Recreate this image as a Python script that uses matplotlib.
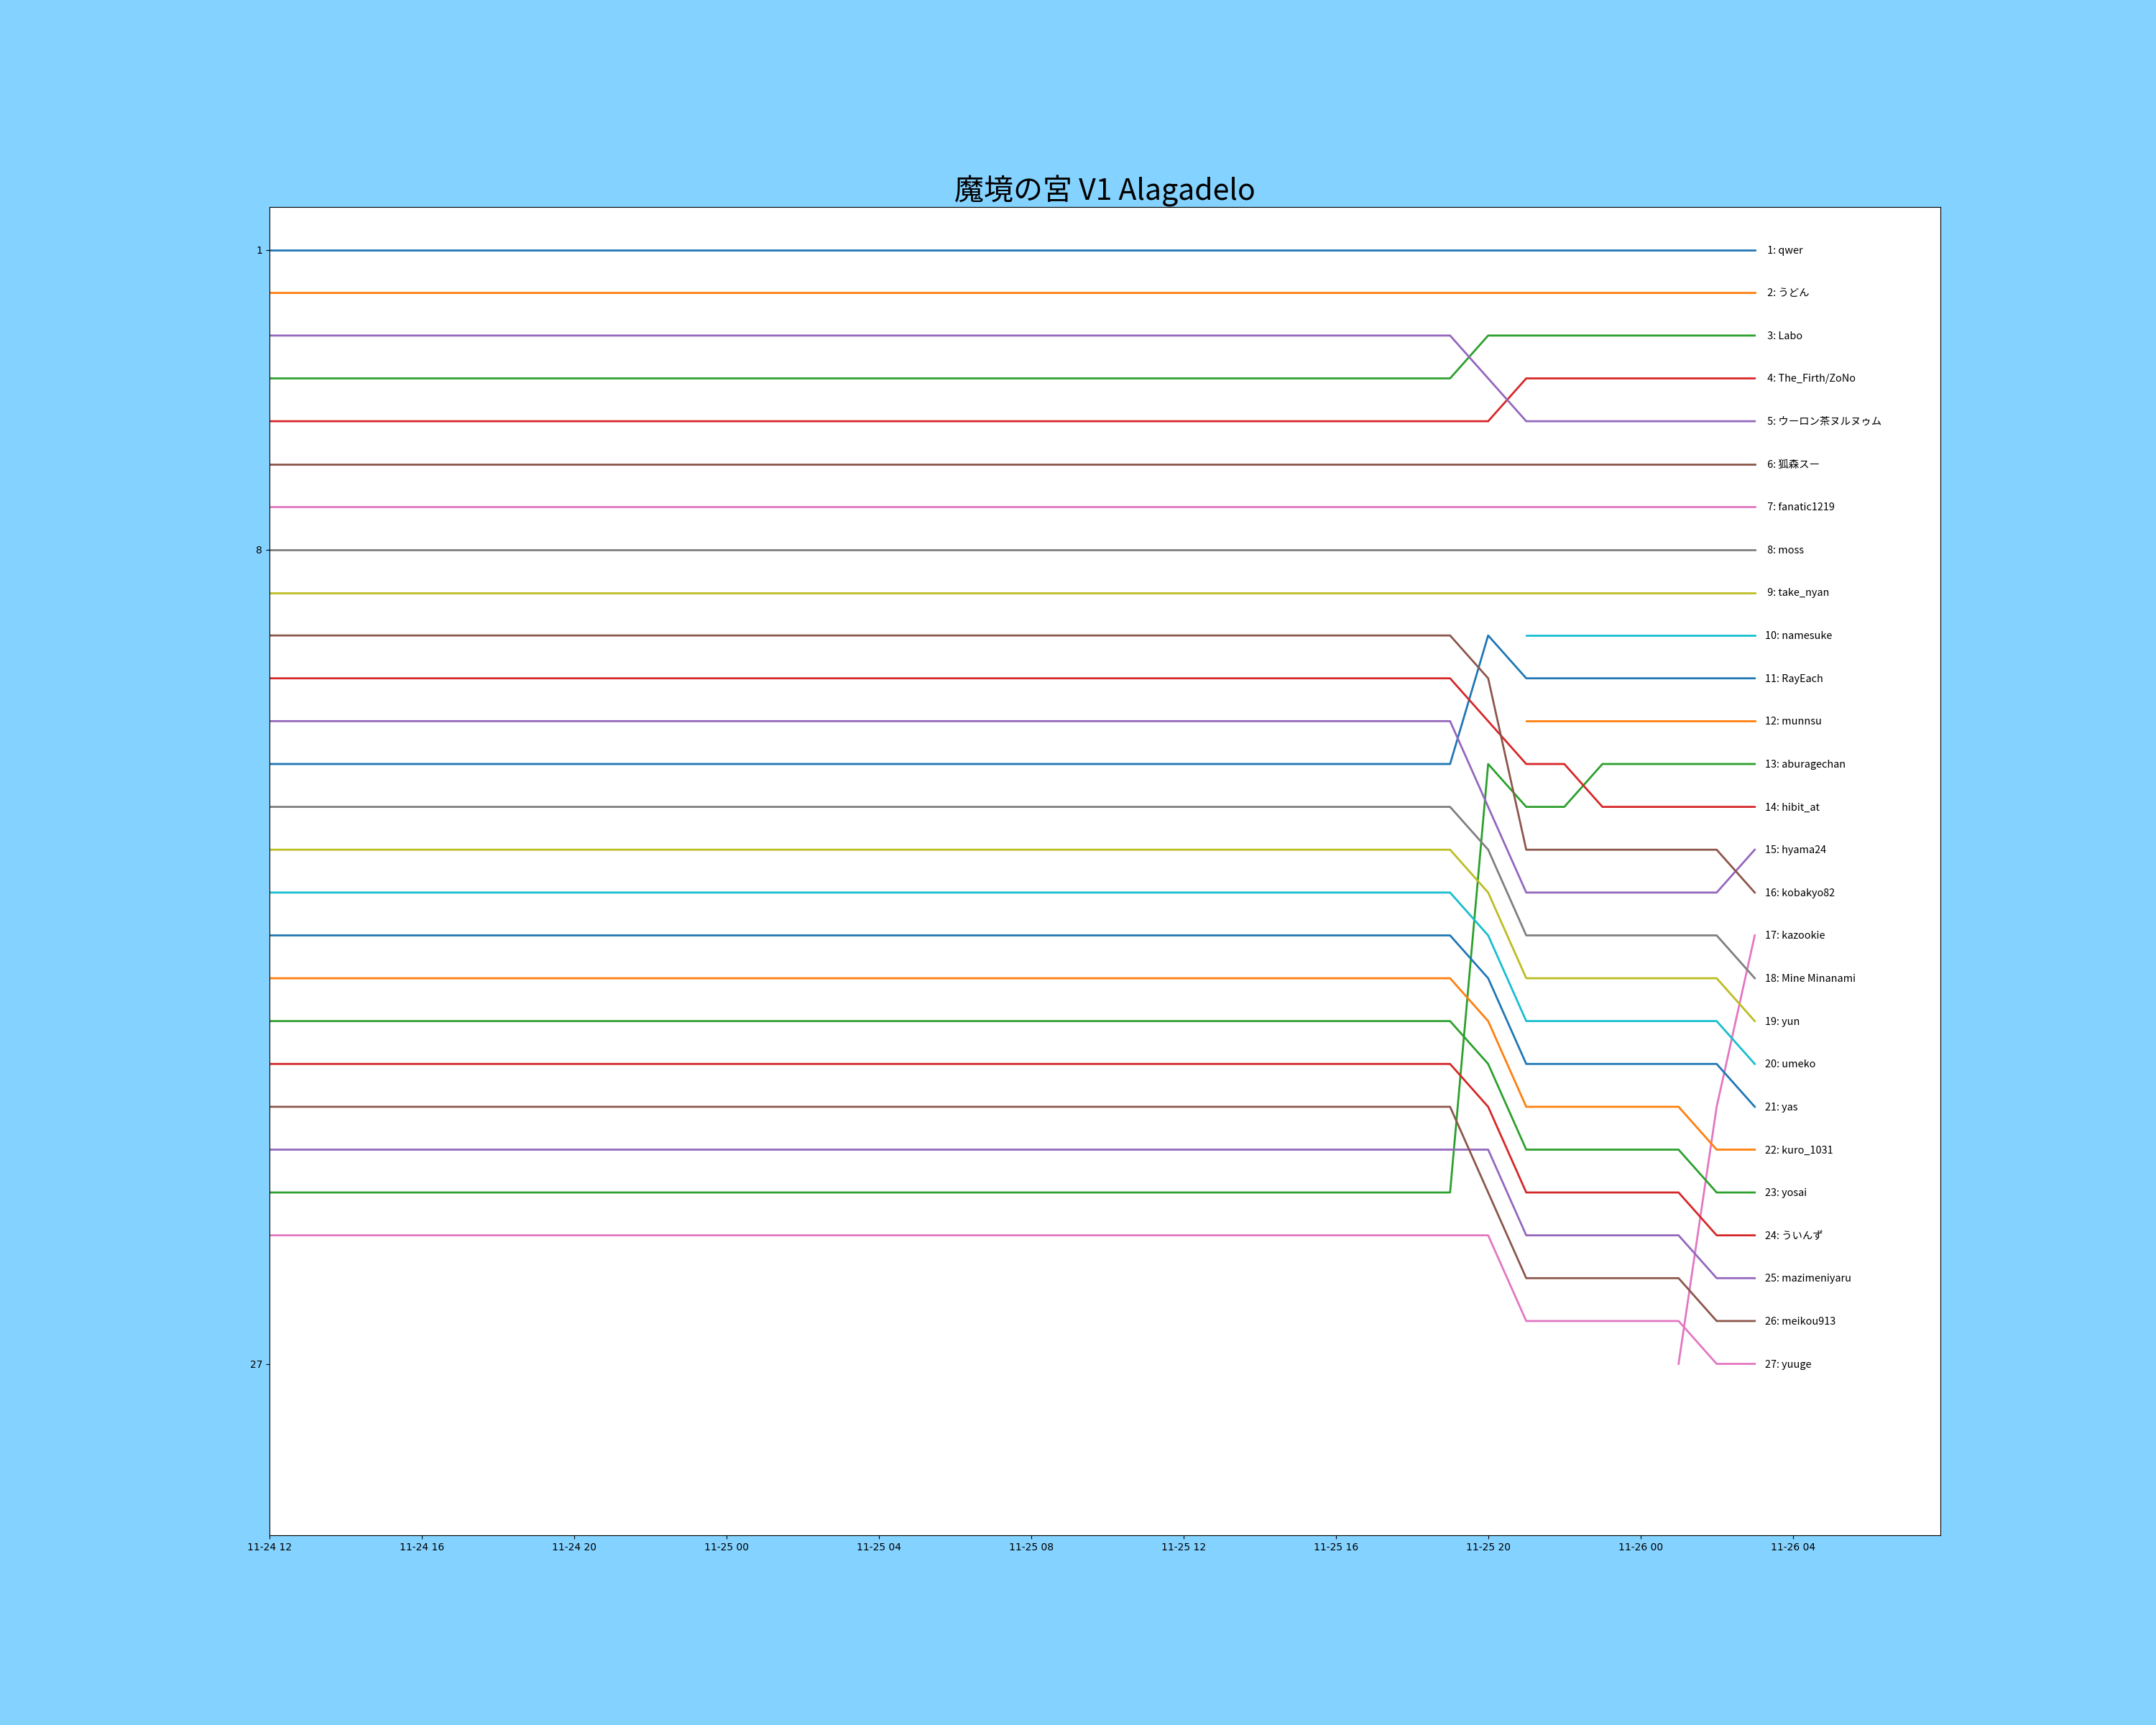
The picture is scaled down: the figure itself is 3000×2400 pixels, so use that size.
import numpy as np
import pandas as pd
import matplotlib
matplotlib.use("Agg")
import matplotlib.pyplot as plt
import matplotlib.dates as mdates

# time points where the ranking was recorded (hourly, only the changes kept)
times = pd.to_datetime([
    "2023-11-24 12:00", "2023-11-25 19:00", "2023-11-25 20:00",
    "2023-11-25 21:00", "2023-11-25 22:00", "2023-11-25 23:00",
    "2023-11-26 00:00", "2023-11-26 01:00", "2023-11-26 02:00",
    "2023-11-26 03:00",
])

# players in final order
names = [
    "qwer", "うどん", "Labo", "The_Firth/ZoNo", "ウーロン茶ヌルヌゥム",
    "狐森スー", "fanatic1219", "moss", "take_nyan", "namesuke",
    "RayEach", "munnsu", "aburagechan", "hibit_at", "hyama24",
    "kobakyo82", "kazookie", "Mine Minanami", "yun", "umeko",
    "yas", "kuro_1031", "yosai", "ういんず", "mazimeniyaru",
    "meikou913", "yuuge",
]

n = np.nan
# rank of each player at each time point (nan = not yet entered)
ranks = [
    [1, 1, 1, 1, 1, 1, 1, 1, 1, 1],
    [2, 2, 2, 2, 2, 2, 2, 2, 2, 2],
    [4, 4, 3, 3, 3, 3, 3, 3, 3, 3],
    [5, 5, 5, 4, 4, 4, 4, 4, 4, 4],
    [3, 3, 4, 5, 5, 5, 5, 5, 5, 5],
    [6, 6, 6, 6, 6, 6, 6, 6, 6, 6],
    [7, 7, 7, 7, 7, 7, 7, 7, 7, 7],
    [8, 8, 8, 8, 8, 8, 8, 8, 8, 8],
    [9, 9, 9, 9, 9, 9, 9, 9, 9, 9],
    [n, n, n, 10, 10, 10, 10, 10, 10, 10],
    [13, 13, 10, 11, 11, 11, 11, 11, 11, 11],
    [n, n, n, 12, 12, 12, 12, 12, 12, 12],
    [23, 23, 13, 14, 14, 13, 13, 13, 13, 13],
    [11, 11, 12, 13, 13, 14, 14, 14, 14, 14],
    [12, 12, 14, 16, 16, 16, 16, 16, 16, 15],
    [10, 10, 11, 15, 15, 15, 15, 15, 15, 16],
    [n, n, n, n, n, n, n, 27, 21, 17],
    [14, 14, 15, 17, 17, 17, 17, 17, 17, 18],
    [15, 15, 16, 18, 18, 18, 18, 18, 18, 19],
    [16, 16, 17, 19, 19, 19, 19, 19, 19, 20],
    [17, 17, 18, 20, 20, 20, 20, 20, 20, 21],
    [18, 18, 19, 21, 21, 21, 21, 21, 22, 22],
    [19, 19, 20, 22, 22, 22, 22, 22, 23, 23],
    [20, 20, 21, 23, 23, 23, 23, 23, 24, 24],
    [22, 22, 22, 24, 24, 24, 24, 24, 25, 25],
    [21, 21, 23, 25, 25, 25, 25, 25, 26, 26],
    [24, 24, 24, 26, 26, 26, 26, 26, 27, 27],
]

title = "魔境の宮 V1 Alagadelo"
jp_font = ["Noto Sans CJK JP", "DejaVu Sans"]

fig = plt.figure(figsize=(30, 24), dpi=100, facecolor="#84D2FF")
ax = fig.add_subplot(111)

for name, r in zip(names, ranks):
    ax.plot(times, r, linewidth=2)
    final = int(r[-1])
    ax.annotate("%2d: %s" % (final, name), xy=(times[-1], final),
                xytext=(10, -0.7), textcoords="offset points",
                va="center", ha="left", fontsize=10.4, family=jp_font)

span = times[-1] - times[0]
ax.set_xlim(times[0], times[-1] + span / 8)
ax.set_ylim(31, 0)
ax.set_yticks([1, 8, 27])
ax.xaxis.set_major_locator(mdates.HourLocator(byhour=range(0, 24, 4)))
ax.xaxis.set_major_formatter(mdates.DateFormatter("%m-%d %H"))
ax.set_title(title, fontsize=29.5, family=jp_font)

fig.savefig("out.png", facecolor=fig.get_facecolor())
